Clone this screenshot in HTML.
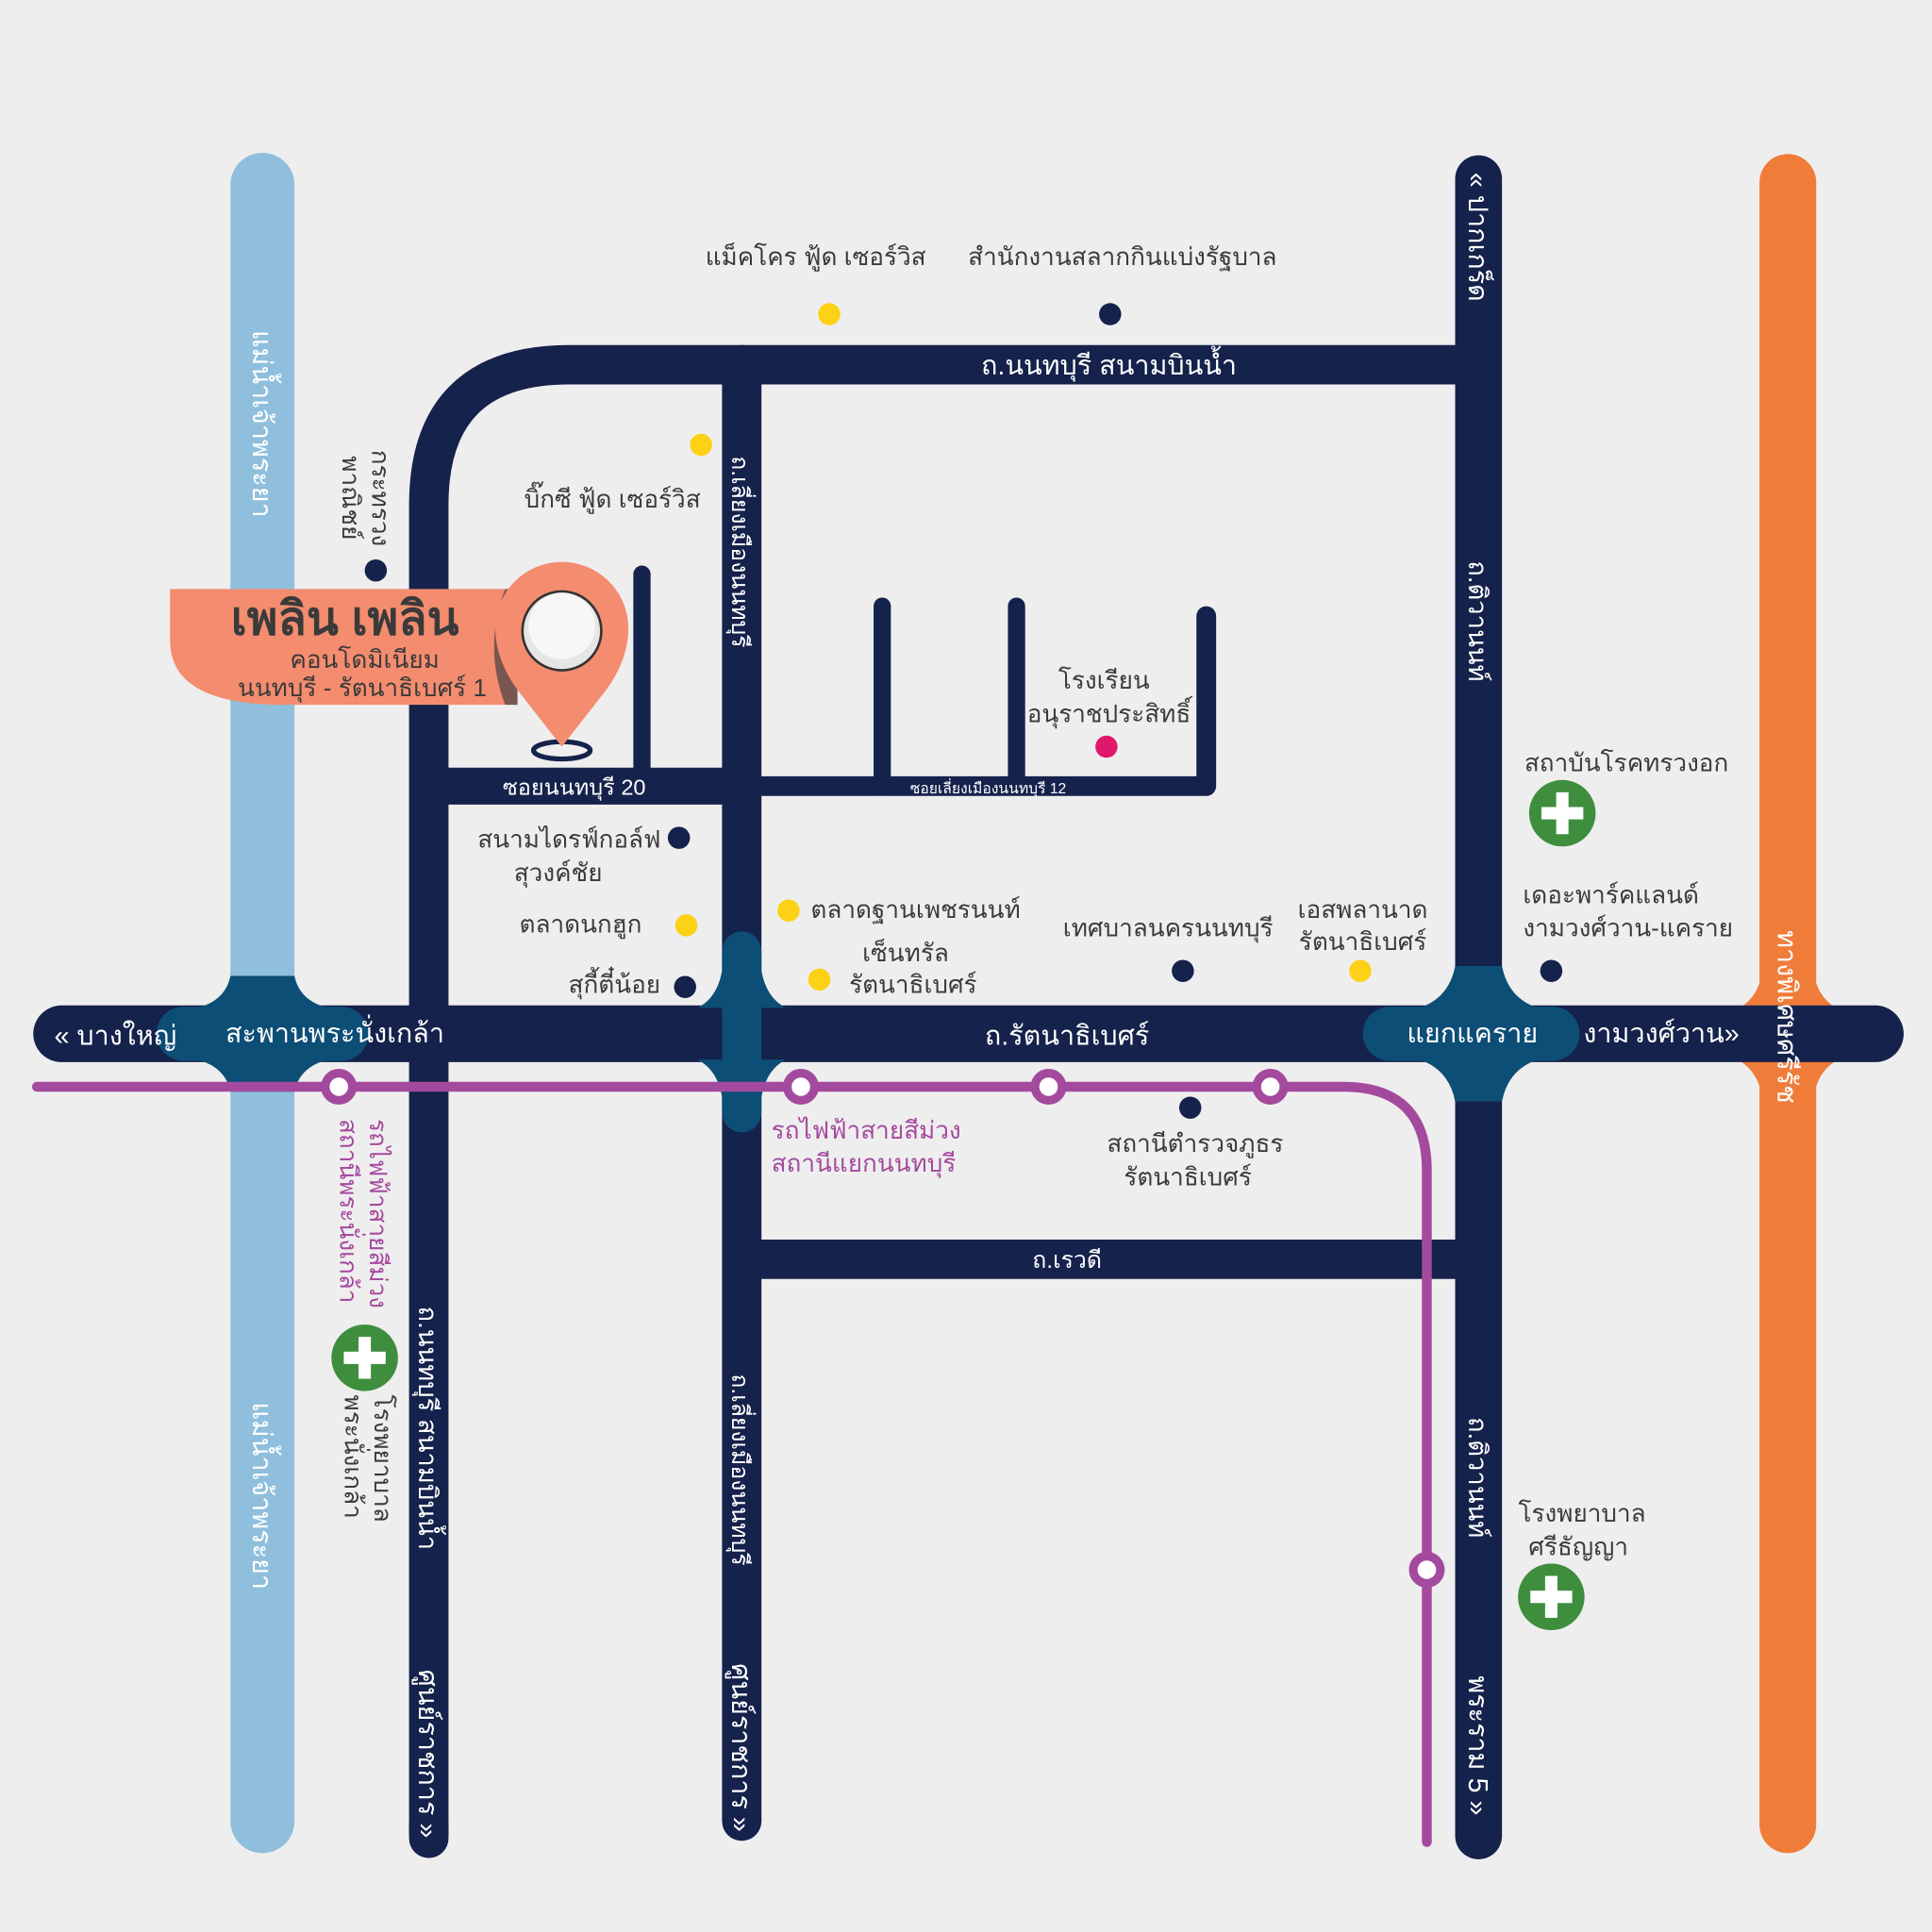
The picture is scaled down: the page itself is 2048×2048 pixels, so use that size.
<!DOCTYPE html>
<html><head><meta charset="utf-8"><style>
html,body{margin:0;padding:0;background:#efeeef;}
svg{display:block}
text{font-family:"Liberation Sans","DejaVu Sans","Noto Sans CJK SC",sans-serif;}
</style></head><body>
<svg width="2048" height="2048" viewBox="0 0 1568 1568" xmlns="http://www.w3.org/2000/svg">
<rect width="1568" height="1568" fill="#efeeef"/>
<line x1="213" y1="150" x2="213" y2="1478" stroke="#8fbfdc" stroke-width="52" stroke-linecap="round"/>
<line x1="1451" y1="148" x2="1451" y2="1481" stroke="#f07c3a" stroke-width="46" stroke-linecap="round"/>
<path d="M1412 818 Q1428 808 1430 788 L1472 788 Q1474 808 1490 818 Z" fill="#f07c3a"/>
<path d="M1412 861 Q1428 871 1430 892 L1472 892 Q1474 871 1490 861 Z" fill="#f07c3a"/>
<g fill="none" stroke="#15224b" stroke-linecap="round">
<path d="M348 1490 L348 410 Q348 296 462 296 L1200 296" stroke-width="32" stroke-linecap="butt"/>
<line x1="348" y1="1480" x2="348" y2="1492" stroke-width="32"/>
<line x1="1200" y1="145" x2="1200" y2="1490" stroke-width="38"/>
<line x1="602" y1="296" x2="602" y2="1478" stroke-width="32"/>
<line x1="348" y1="638" x2="602" y2="638" stroke-width="30" stroke-linecap="butt"/>
<path d="M602 638 L979 638 L979 500" stroke-width="16" stroke-linejoin="round"/>
<line x1="521" y1="466" x2="521" y2="638" stroke-width="14"/>
<line x1="716" y1="492" x2="716" y2="638" stroke-width="14"/>
<line x1="825" y1="492" x2="825" y2="638" stroke-width="14"/>
<line x1="602" y1="1022" x2="1200" y2="1022" stroke-width="32" stroke-linecap="butt"/>
<line x1="50" y1="839" x2="1522" y2="839" stroke-width="46"/>
</g>
<g fill="#0c4e76">
<path d="M160 818 Q183 812 187 792 L239 792 Q243 812 266 818 Z"/>
<path d="M160 860 Q183 866 187 886 L239 886 Q243 866 266 860 Z"/>
<rect x="127" y="817" width="172" height="44" rx="22"/>
<path d="M566 818 Q582 810 586 788 L618 788 Q622 810 638 818 Z"/>
<path d="M566 860 Q582 868 586 890 L618 890 Q622 868 638 860 Z"/>
<line x1="602" y1="772" x2="602" y2="903" stroke="#0c4e76" stroke-width="32" stroke-linecap="round"/>
<path d="M1152 818 Q1176 810 1181 784 L1219 784 Q1224 810 1248 818 Z"/>
<path d="M1152 860 Q1176 868 1181 894 L1219 894 Q1224 868 1248 860 Z"/>
<rect x="1106" y="817" width="176" height="44" rx="22"/>
</g>
<path d="M30 882 L1090 882 Q1158 882 1158 950 L1158 1495" fill="none" stroke="#a44a9e" stroke-width="8" stroke-linecap="round"/>
<g fill="#fff" stroke="#a44a9e" stroke-width="7">
<circle cx="275" cy="882" r="11"/><circle cx="650" cy="882" r="11"/><circle cx="851" cy="882" r="11"/><circle cx="1031" cy="882" r="11"/><circle cx="1158" cy="1274" r="11"/>
</g>
<g fill="#15224b">
<circle cx="901" cy="255" r="9"/><circle cx="305" cy="463" r="9"/><circle cx="551" cy="680" r="9"/><circle cx="556" cy="801" r="9"/><circle cx="960" cy="788" r="9"/><circle cx="1259" cy="788" r="9"/><circle cx="966" cy="899" r="9"/>
</g>
<g fill="#fcd116">
<circle cx="673" cy="255" r="9"/><circle cx="569" cy="361" r="9"/><circle cx="557" cy="751" r="9"/><circle cx="640" cy="739" r="9"/><circle cx="665" cy="795" r="9"/><circle cx="1104" cy="788" r="9"/>
</g>
<circle cx="898" cy="606" r="9" fill="#e0186c"/>
<g>
<circle cx="1268" cy="660" r="27" fill="#3e8e3e"/><rect x="1263" y="643" width="10" height="34" fill="#fff"/><rect x="1251" y="655" width="34" height="10" fill="#fff"/>
<circle cx="296" cy="1102" r="27" fill="#3e8e3e"/><rect x="291" y="1085" width="10" height="34" fill="#fff"/><rect x="279" y="1097" width="34" height="10" fill="#fff"/>
<circle cx="1259" cy="1296" r="27" fill="#3e8e3e"/><rect x="1254" y="1279" width="10" height="34" fill="#fff"/><rect x="1242" y="1291" width="34" height="10" fill="#fff"/>
</g>
<path d="M138 478 L410 478 L410 572 L230 572 Q138 572 138 520 Z" fill="#f48c6f"/>
<path d="M410 478 Q392 525 410 572 L420 572 L420 478 Z" fill="#7a5650"/>
<ellipse cx="456" cy="609" rx="23" ry="7" fill="none" stroke="#15224b" stroke-width="4"/>
<path d="M456 606 L420 560 Q402 535 402 510 A54 54 0 0 1 510 510 Q510 535 492 560 Z" fill="#f48c6f"/>
<circle cx="456" cy="512" r="32" fill="#e6e6e6" stroke="#333" stroke-width="2"/>
<circle cx="456" cy="508" r="27" fill="#f7f7f7"/>
<text x="280" y="515" font-size="38" font-weight="bold" fill="#3a3a3a" text-anchor="middle">เพลิน เพลิน</text>
<text x="296" y="542" font-size="20" fill="#3a3a3a" text-anchor="middle">คอนโดมิเนียม</text>
<text x="294" y="565" font-size="20" fill="#3a3a3a" text-anchor="middle">นนทบุรี - รัตนาธิเบศร์ 1</text>
<g font-size="20" fill="#3a3a3a">
<text x="662" y="215" text-anchor="middle">แม็คโคร ฟู้ด เซอร์วิส</text>
<text x="911" y="215" text-anchor="middle">สำนักงานสลากกินแบ่งรัฐบาล</text>
<text x="497" y="412" text-anchor="middle">บิ๊กซี ฟู้ด เซอร์วิส</text>
<text x="896" y="559" text-anchor="middle">โรงเรียน</text>
<text x="900" y="586" text-anchor="middle">อนุราชประสิทธิ์</text>
<text x="1320" y="626" text-anchor="middle">สถาบันโรคทรวงอก</text>
<text x="1236" y="733">เดอะพาร์คแลนด์</text>
<text x="1236" y="760">งามวงศ์วาน-แคราย</text>
<text x="462" y="688" text-anchor="middle">สนามไดรฟ์กอล์ฟ</text>
<text x="453" y="715" text-anchor="middle">สุวงค์ชัย</text>
<text x="521" y="757" text-anchor="end">ตลาดนกฮูก</text>
<text x="536" y="806" text-anchor="end">สุกี้ตี๋น้อย</text>
<text x="658" y="745">ตลาดฐานเพชรนนท์</text>
<text x="735" y="780" text-anchor="middle">เซ็นทรัล</text>
<text x="741" y="806" text-anchor="middle">รัตนาธิเบศร์</text>
<text x="948" y="760" text-anchor="middle">เทศบาลนครนนทบุรี</text>
<text x="1106" y="745" text-anchor="middle">เอสพลานาด</text>
<text x="1106" y="771" text-anchor="middle">รัตนาธิเบศร์</text>
<text x="970" y="935" text-anchor="middle">สถานีตำรวจภูธร</text>
<text x="964" y="962" text-anchor="middle">รัตนาธิเบศร์</text>
<text x="1284" y="1235" text-anchor="middle">โรงพยาบาล</text>
<text x="1281" y="1262" text-anchor="middle">ศรีธัญญา</text>
</g>
<g font-size="20" fill="#a44a9e">
<text x="626" y="924">รถไฟฟ้าสายสีม่วง</text>
<text x="626" y="951">สถานีแยกนนทบุรี</text>
</g>
<g fill="#fff" font-size="22">
<text x="900" y="304" text-anchor="middle">ถ.นนทบุรี สนามบินน้ำ</text>
<text x="466" y="645" text-anchor="middle" font-size="18">ซอยนนทบุรี 20</text>
<text x="802" y="644" text-anchor="middle" font-size="12">ซอยเลี่ยงเมืองนนทบุรี 12</text>
<text x="866" y="848" text-anchor="middle">ถ.รัตนาธิเบศร์</text>
<text x="866" y="1029" text-anchor="middle" font-size="19">ถ.เรวดี</text>
<text x="44" y="848">« บางใหญ่</text>
<text x="183" y="846">สะพานพระนั่งเกล้า</text>
<text x="1195" y="846" text-anchor="middle">แยกแคราย</text>
<text x="1285" y="846">งามวงศ์วาน»</text>
<text transform="translate(1192,140) rotate(90)">« ปากเกร็ด</text>
<text transform="translate(1192,455) rotate(90)" font-size="21">ถ.ติวานนท์</text>
<text transform="translate(1192,1150) rotate(90)" font-size="21">ถ.ติวานนท์</text>
<text transform="translate(1192,1360) rotate(90)">พระราม 5 »</text>
<text transform="translate(594,370) rotate(90)" font-size="19">ถ.เลี่ยงเมืองนนทบุรี</text>
<text transform="translate(594,1115) rotate(90)" font-size="19">ถ.เลี่ยงเมืองนนทบุรี</text>
<text transform="translate(594,1350) rotate(90)">ศูนย์ราชการ »</text>
<text transform="translate(340,1060) rotate(90)" font-size="21">ถ.นนทบุรี สนามบินน้ำ</text>
<text transform="translate(340,1355) rotate(90)">ศูนย์ราชการ »</text>
<text transform="translate(205,268) rotate(90)" font-size="22">แม่น้ำเจ้าพระยา</text>
<text transform="translate(205,1138) rotate(90)" font-size="22">แม่น้ำเจ้าพระยา</text>
<text transform="translate(1443,755) rotate(90)" font-size="22">ทางพิเศษศรีรัช</text>
</g>
<g font-size="20" fill="#3a3a3a">
<text transform="translate(302,365) rotate(90)">กระทรวง</text>
<text transform="translate(278,370) rotate(90)">พาณิชย์</text>
<text transform="translate(304,1132) rotate(90)">โรงพยาบาล</text>
<text transform="translate(280,1132) rotate(90)">พระนั่งเกล้า</text>
</g>
<g font-size="20" fill="#a44a9e">
<text transform="translate(300,908) rotate(90)">รถไฟฟ้าสายสีม่วง</text>
<text transform="translate(276,908) rotate(90)">สถานีพระนั่งเกล้า</text>
</g>
</svg>
</body></html>
